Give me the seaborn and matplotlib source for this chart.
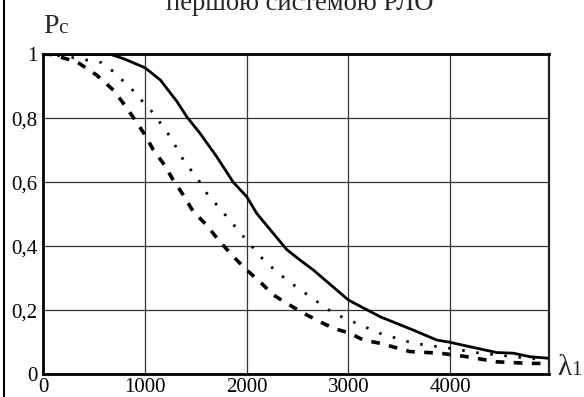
import matplotlib
matplotlib.use("Agg")
import matplotlib.pyplot as plt
from matplotlib.lines import Line2D
import seaborn as sns
import pandas as pd

# ---- data ----
solid_x = [0, 300, 660, 800, 1000, 1150, 1315, 1410, 1541, 1705, 1868, 2000, 2098, 2262,
           2393, 2524, 2655, 3000, 3311, 3639, 3869, 4000, 4196, 4458, 4620, 4785, 4975]
solid_y = [1.0, 1.0, 1.0, 0.985, 0.958, 0.92, 0.852, 0.805, 0.753, 0.68, 0.60, 0.555, 0.503, 0.44,
           0.39, 0.357, 0.326, 0.232, 0.18, 0.138, 0.107, 0.10, 0.086, 0.068, 0.066, 0.055, 0.05]

dotted_x = [0, 230, 574, 689, 885, 983, 1082, 1246, 1377, 1541, 1607, 1803, 1983, 2180,
            2393, 2622, 2852, 3082, 3311, 3639, 4000, 4294, 4622, 4950]
dotted_y = [1.0, 0.993, 0.974, 0.946, 0.886, 0.85, 0.816, 0.743, 0.67, 0.60, 0.566, 0.493, 0.425, 0.352,
            0.295, 0.243, 0.191, 0.159, 0.128, 0.097, 0.081, 0.066, 0.055, 0.045]

dashed_x = [0, 66, 328, 525, 689, 787, 902, 1000, 1082, 1180, 1278, 1377, 1475, 1607, 1721, 1868,
            2000, 2131, 2262, 2393, 2557, 2721, 2852, 3016, 3147, 3311, 3606, 3901, 4163, 4458, 4785, 4950]
dashed_y = [1.0, 1.0, 0.977, 0.935, 0.888, 0.847, 0.795, 0.748, 0.701, 0.659, 0.607, 0.56, 0.508, 0.466,
            0.42, 0.368, 0.326, 0.289, 0.248, 0.222, 0.191, 0.164, 0.144, 0.128, 0.107, 0.097, 0.071,
            0.066, 0.055, 0.039, 0.034, 0.034]

x_ticks = [0, 1000, 2000, 3000, 4000]
x_tick_labels = ["0", "1000", "2000", "3000", "4000"]
y_ticks = [0, 0.2, 0.4, 0.6, 0.8, 1.0]
y_tick_labels = ["0", "0,2", "0,4", "0,6", "0,8", "1"]

title_text = "першою системою РЛО"
y_label_main, y_label_sub = "P", "c"
x_label_main, x_label_sub = "λ", "1"

# ---- style ----
sns.set_style("white")
plt.rcParams["font.family"] = ["Liberation Serif", "DejaVu Serif"]

W, H = 584, 397
fig = plt.figure(figsize=(W / 100, H / 100), dpi=100)
ax = fig.add_axes([43.3 / W, 1 - 374.3 / H, (549.3 - 43.3) / W, (374.3 - 54.3) / H])

df_solid = pd.DataFrame({"x": solid_x, "y": solid_y})
df_dot = pd.DataFrame({"x": dotted_x, "y": dotted_y})
df_dash = pd.DataFrame({"x": dashed_x, "y": dashed_y})

sns.lineplot(data=df_solid, x="x", y="y", ax=ax, color="black", lw=2.0, estimator=None, sort=False)
sns.lineplot(data=df_dot, x="x", y="y", ax=ax, color="black", lw=2.0, estimator=None, sort=False)
ax.lines[-1].set_dashes([0.9, 4.2])
sns.lineplot(data=df_dash, x="x", y="y", ax=ax, color="black", lw=2.6, estimator=None, sort=False)
ax.lines[-1].set_dashes([2.4, 2.6])

ax.set_xlim(0, 4975)
ax.set_ylim(0, 1.0)
ax.set_xticks(x_ticks)
ax.set_xticklabels(x_tick_labels)
ax.set_yticks(y_ticks)
ax.set_yticklabels(y_tick_labels)
ax.tick_params(axis="both", length=0, labelsize=15, colors="black", pad=4)
ax.tick_params(axis="x", pad=3)
ax.set_xlabel("")
ax.set_ylabel("")
ax.grid(True, color="#333333", lw=0.9)

for side in ["left", "bottom", "top"]:
    ax.spines[side].set_visible(True)
    ax.spines[side].set_color("black")
    ax.spines[side].set_linewidth(2.0)
ax.spines["right"].set_visible(True)
ax.spines["right"].set_color("#222222")
ax.spines["right"].set_linewidth(1.6)

# title, cut at the top edge as in the reference
fig.text(300 / W, 1 - 10 / H, title_text, ha="center", va="baseline", fontsize=19.2)

# axis labels
fig.text(43 / W, 1 - 33 / H, y_label_main, ha="left", va="baseline", fontsize=20)
fig.text(58 / W, 1 - 33 / H, y_label_sub, ha="left", va="baseline", fontsize=15.5)
fig.text(557 / W, 1 - 375 / H, x_label_main, ha="left", va="baseline", fontsize=21)
fig.text(571 / W, 1 - 375 / H, x_label_sub, ha="left", va="baseline", fontsize=15)

# left border line of the picture
fig.add_artist(Line2D([3.5 / W, 3.5 / W], [0, 1], color="black", lw=1.5))

fig.savefig("out.png", dpi=100)
